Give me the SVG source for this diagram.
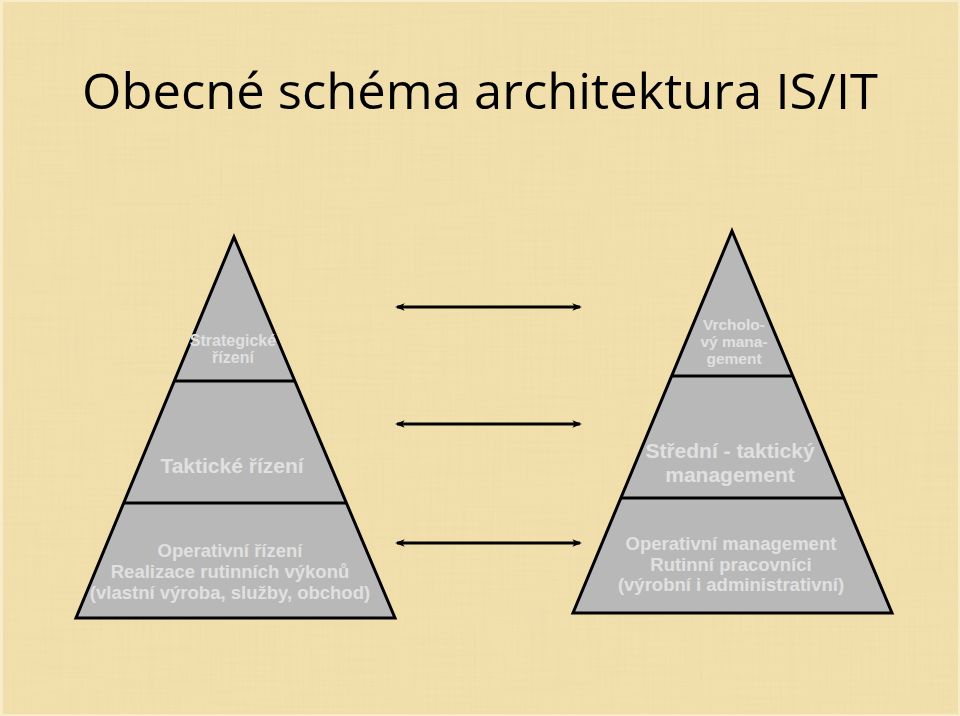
<svg xmlns="http://www.w3.org/2000/svg" width="960" height="716" viewBox="0 0 960 716">
<defs>
<style>
.tri{fill:#b8b8b8;stroke:#000;stroke-width:3;stroke-linejoin:miter}
.div{stroke:#000;stroke-width:3}
.lbl{font-family:"Liberation Sans",Arial,sans-serif;font-weight:bold;fill:#e0e0e0;text-anchor:middle}
.conn{stroke:#000;stroke-width:2.8;fill:none;marker-start:url(#ah);marker-end:url(#ah)}
</style>
<marker id="ah" viewBox="0 0 10 10" refX="8" refY="5" markerWidth="3.4" markerHeight="3.4" orient="auto-start-reverse">
<path d="M0,1 L10,5 L0,9 L2.5,5 z" fill="#000"/>
</marker>
<filter id="tex" x="0" y="0" width="100%" height="100%">
<feTurbulence type="fractalNoise" baseFrequency="0.4 0.01" numOctaves="3" seed="4" result="n1"/>
<feTurbulence type="fractalNoise" baseFrequency="0.01 0.35" numOctaves="3" seed="9" result="n2"/>
<feBlend in="n1" in2="n2" mode="multiply" result="n"/>
<feColorMatrix in="n" type="matrix" values="0 0 0 0 0.75  0 0 0 0 0.62  0 0 0 0 0.35  -1.3 0 0 0 0.85" result="c"/>
<feComposite in="c" in2="SourceGraphic" operator="in"/>
</filter>
</defs>
<rect width="960" height="716" fill="#f8ecc8"/>
<rect x="3" y="2" width="955" height="712" fill="#f2e0ad"/>
<rect x="3" y="2" width="955" height="712" fill="#fff" filter="url(#tex)" opacity="0.35"/>

<text x="480" y="109" font-family="'Open Sans','Liberation Sans',sans-serif" font-size="50" fill="#000" text-anchor="middle" textLength="796" lengthAdjust="spacingAndGlyphs">Obecné schéma architektura IS/IT</text>

<g id="pyramid-left">
<polygon class="tri" points="234,237 395,618 76,618"/>
<line class="div" x1="174" y1="381" x2="295" y2="381"/>
<line class="div" x1="123" y1="503" x2="346" y2="503"/>
</g>
<g id="node-strategicke">
<text class="lbl" x="233" y="346" font-size="16">Strategické</text>
<text class="lbl" x="233" y="363" font-size="16">řízení</text>
</g>
<g id="node-takticke">
<text class="lbl" x="232" y="473" font-size="21">Taktické řízení</text>
</g>
<g id="node-operativni">
<text class="lbl" x="230" y="557" font-size="18.5">Operativní řízení</text>
<text class="lbl" x="230" y="578" font-size="18.5">Realizace rutinních výkonů</text>
<text class="lbl" x="230" y="599" font-size="18.5">(vlastní výroba, služby, obchod)</text>
</g>

<g id="pyramid-right">
<polygon class="tri" points="732,231 892,613 573,613"/>
<line class="div" x1="672" y1="376" x2="792" y2="376"/>
<line class="div" x1="621" y1="498" x2="843" y2="498"/>
</g>
<g id="node-vrcholovy">
<text class="lbl" x="734" y="330" font-size="15.5">Vrcholo-</text>
<text class="lbl" x="734" y="347" font-size="15.5">vý mana-</text>
<text class="lbl" x="734" y="364" font-size="15.5">gement</text>
</g>
<g id="node-stredni">
<text class="lbl" x="730" y="458" font-size="21">Střední - taktický</text>
<text class="lbl" x="730" y="482" font-size="21">management</text>
</g>
<g id="node-operativni-mgmt">
<text class="lbl" x="731" y="550" font-size="18.5">Operativní management</text>
<text class="lbl" x="731" y="571" font-size="18.5">Rutinní pracovníci</text>
<text class="lbl" x="731" y="591" font-size="18.5">(výrobní i administrativní)</text>
</g>

<g id="connectors">
<line class="conn" x1="397" y1="307" x2="580" y2="307"/>
<line class="conn" x1="397" y1="424" x2="580" y2="424"/>
<line class="conn" x1="397" y1="543" x2="580" y2="543"/>
</g>
</svg>
